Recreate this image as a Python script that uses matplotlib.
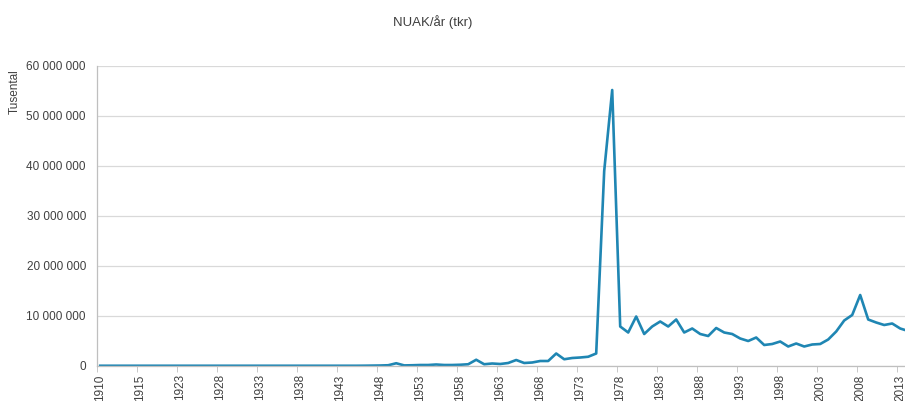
import matplotlib.pyplot as plt
from matplotlib.ticker import FuncFormatter, FixedLocator

# --------------------------------------------------
# Data (NUAK per year, million tkr)
# --------------------------------------------------

years = [1910, 1911, 1912, 1913, 1914, 1915, 1916, 1917, 1918, 1919] + list(range(1923, 2015))

nuak_mn = [
    # 1910-1919 (gap), 1923-1948
    0.05, 0.05, 0.05, 0.05, 0.05, 0.05, 0.05, 0.05, 0.05, 0.05,
    0.05, 0.05, 0.05, 0.05, 0.05, 0.05, 0.05, 0.05, 0.05, 0.05,
    0.05, 0.05, 0.05, 0.05, 0.05, 0.05, 0.05, 0.05, 0.05, 0.05,
    0.05, 0.05, 0.05, 0.06, 0.08, 0.10,
    # 1949-1975
    0.15, 0.55, 0.12, 0.15, 0.20, 0.20, 0.30, 0.20, 0.20, 0.25,
    0.35, 1.25, 0.35, 0.50, 0.40, 0.60, 1.20, 0.60, 0.70, 1.00,
    1.00, 2.50, 1.35, 1.60, 1.70, 1.85, 2.50,
    # 1976-1992
    39.0, 55.2, 7.9, 6.7, 9.9, 6.4, 7.9, 8.9, 7.9, 9.3,
    6.7, 7.5, 6.4, 6.0, 7.6, 6.7, 6.4,
    # 1993-2014
    5.5, 5.0, 5.7, 4.2, 4.4, 4.9, 3.9, 4.5, 3.9, 4.3,
    4.4, 5.3, 6.9, 9.1, 10.2, 14.2, 9.3, 8.7, 8.2, 8.5,
    7.5, 7.0,
]

values = [v * 1e6 for v in nuak_mn]
idx = list(range(len(years)))

# --------------------------------------------------
# Plot
# --------------------------------------------------

plt.rcParams["font.family"] = ["Liberation Sans", "DejaVu Sans"]
text_color = "#404040"

fig = plt.figure(figsize=(9.05, 4.01), dpi=100)
ax = fig.add_axes([97 / 905, 1 - 366 / 401, 1 - 97 / 905, (366 - 66) / 401])

ax.plot(idx, values, color="#1f86b3", linewidth=1.9, solid_joinstyle="round")

ax.set_ylim(0, 60e6)
ax.set_xlim(-0.4, 100.6)

ax.set_yticks([0, 10e6, 20e6, 30e6, 40e6, 50e6, 60e6])
ax.yaxis.set_major_formatter(FuncFormatter(lambda v, p: f"{int(v):,}".replace(",", " ")))
ax.grid(axis="y", color="#d9d9d9", linewidth=0.9)
ax.set_axisbelow(True)

# labels sit on the category, tick marks just left of it (Excel style)
label_idx = list(range(0, 101, 5))
ax.xaxis.set_major_locator(FixedLocator(label_idx))
ax.xaxis.set_minor_locator(FixedLocator([i - 0.4 for i in label_idx]))
ax.set_xticklabels([str(years[i]) for i in label_idx], rotation=90)

ax.tick_params(axis="x", which="major", length=0, labelsize=8.5, labelcolor=text_color, pad=6)
ax.tick_params(axis="x", which="minor", length=4, color="#bfbfbf")
ax.tick_params(axis="y", length=0, labelsize=8.5, labelcolor=text_color, pad=8)

for side in ["top", "right"]:
    ax.spines[side].set_visible(False)
for side in ["left", "bottom"]:
    ax.spines[side].set_color("#bfbfbf")
    ax.spines[side].set_linewidth(0.9)

fig.text(15 / 905, 1 - 92 / 401, "Tusental", rotation=90, ha="center", va="center",
         fontsize=8.5, color=text_color)
fig.text(433 / 905, 1 - 22 / 401, "NUAK/år (tkr)", ha="center", va="center",
         fontsize=9.5, color=text_color)

fig.savefig("out.png", dpi=100)
